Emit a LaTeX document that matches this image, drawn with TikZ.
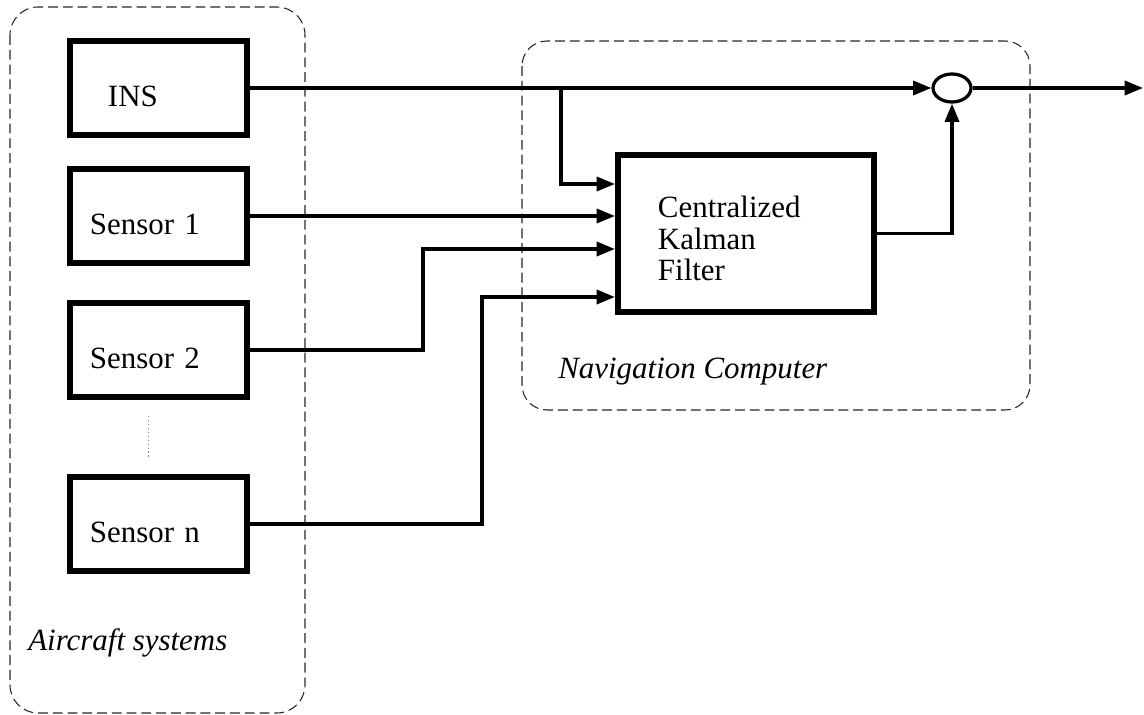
\documentclass[tikz,border=0pt]{standalone}
\usepackage{fontspec}
\setmainfont{Liberation Serif}
\usetikzlibrary{arrows.meta,positioning,shapes.geometric,calc}
\newcommand{\droptext}[2]{\raisebox{-#1}[\height][\depth]{#2}}

\begin{document}
\begin{tikzpicture}[
  x=0.025cm, y=-0.025cm,
  every node/.style={font=\fontsize{22}{22.5}\selectfont},
  unitbox/.style={
    rectangle, draw, line width=4.3pt,
    minimum width=4.425cm, minimum height=2.35cm,
    text width=3.425cm, inner xsep=0.5cm, align=left
  },
  filterbox/.style={
    rectangle, draw, line width=4.3pt,
    minimum width=6.4cm, minimum height=3.925cm, inner xsep=1cm
  },
  sumnode/.style={ellipse, draw, line width=2.3pt, inner sep=0pt,
    minimum width=0.95cm, minimum height=0.7cm},
  groupbox/.style={draw=black!85, line width=0.75pt, dash pattern=on 7pt off 3.5pt},
  grouplabel/.style={font=\fontsize{22}{22.5}\selectfont\itshape, anchor=base west, inner sep=0pt},
  flow/.style={-{Triangle[length=13pt,width=10pt]}, line width=2.3pt}
]
\useasboundingbox (0,0) rectangle (1144,715);

\draw[groupbox, rounded corners=0.7cm]   (10,7) rectangle (305,713);
\draw[groupbox, rounded corners=0.625cm] (522,41) rectangle (1030,410);

\node[unitbox] (ins) at (158.5,88)  {\hspace*{0.45cm}\droptext{5.8pt}{INS}};
\node[unitbox] (s1)  at (158.5,216) {\droptext{5.8pt}{Sensor 1}};
\node[unitbox] (s2)  at (158.5,350) {\droptext{5.8pt}{Sensor 2}};
\node[unitbox] (sn)  at (158.5,524) {\droptext{5.8pt}{Sensor n}};

\draw[gray, dotted, line width=0.8pt] ($(s2.south)+(-10,16)$) -- ($(sn.north)+(-10,-16)$);

\node[filterbox] (kf) at (746,233.5)
  {\droptext{3.5pt}{\parbox{4.4cm}{\raggedright Centralized\\Kalman\\Filter}}};
\node[sumnode] (sum) at (952,88) {};
\coordinate (tap) at (561,88);
\coordinate (out) at (1143,88);

\node[grouplabel] (aclbl) at (28,650)  {Aircraft systems};
\node[grouplabel] (nclbl) at (558,378) {Navigation Computer};

\draw[flow] (ins.east) -- (sum.west);
\draw[flow] (tap) |- ($(kf.west)+(0,-49.5)$);
\draw[flow] (s1.east) -- (s1.east -| kf.west);
\draw[flow] (s2.east) -| ($(kf.west)+(-192,15.5)$) -- ($(kf.west)+(0,15.5)$);
\draw[flow] (sn.east) -| ($(kf.west)+(-133,63.5)$) -- ($(kf.west)+(0,63.5)$);
\draw[flow] (kf.east) -| (sum.south);
\draw[flow] (sum.east) -- (out);
\end{tikzpicture}
\end{document}
